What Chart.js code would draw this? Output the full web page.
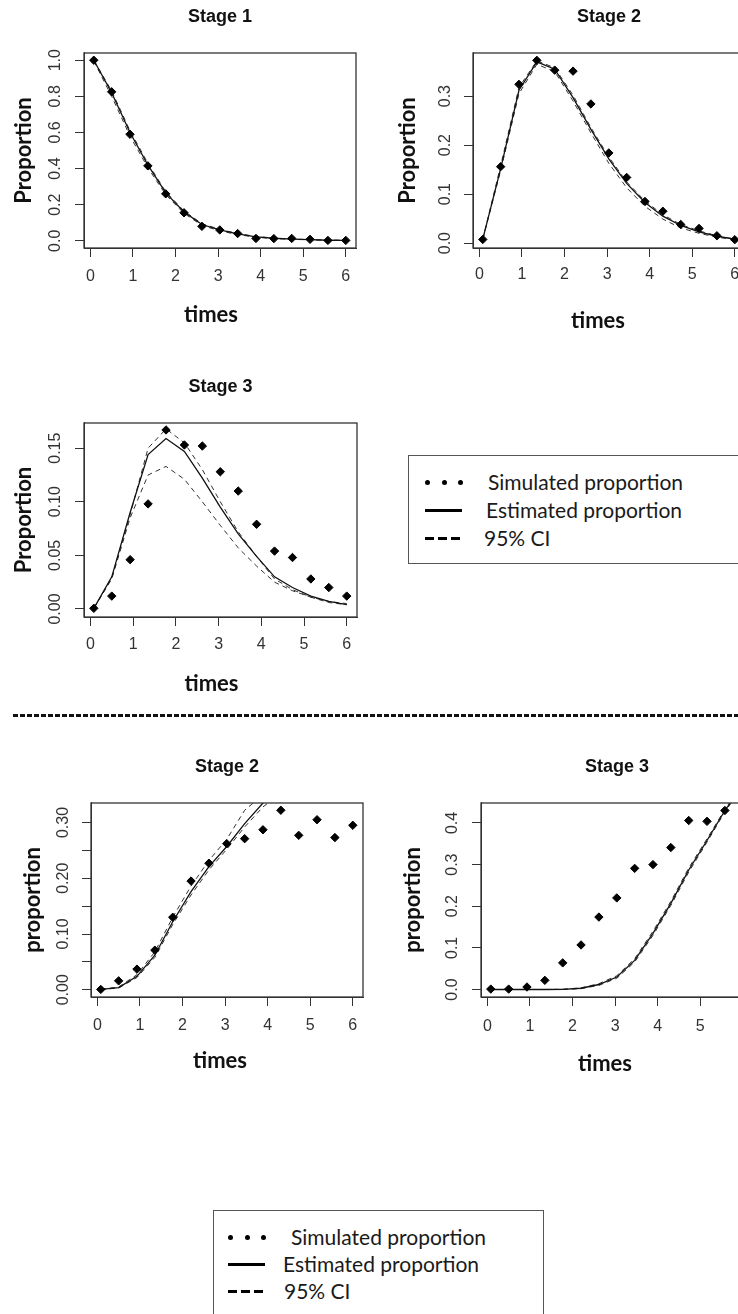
<!DOCTYPE html>
<html>
<head>
<meta charset="utf-8">
<script src="https://cdn.jsdelivr.net/npm/chart.js@4.4.1/dist/chart.umd.min.js"></script>
<style>
html, body { margin: 0; padding: 0; background: #fff; width: 738px; height: 1314px; overflow: hidden; }
body { position: relative; }
canvas { position: absolute; }
.sep { position: absolute; left: 13px; top: 714px; width: 725px; height: 3px;
  background: repeating-linear-gradient(to right, #111 0 5px, transparent 5px 7px); }
.legend { position: absolute; box-sizing: border-box; border: 1px solid #555; background: #fff;
  font-family: Lato, "Open Sans", sans-serif; font-size: 21px; color: #1a1a1a; }
.legend .txt { position: absolute; line-height: 24px; white-space: nowrap; }
.legend .dot { position: absolute; width: 5px; height: 5px; border-radius: 50%; background: #000; }
.legend .bar { position: absolute; height: 3px; background: #000; }
</style>
</head>
<body>
<canvas id="c1" width="370" height="340" style="left:0px;top:0px"></canvas>
<canvas id="c2" width="400" height="340" style="left:370px;top:0px"></canvas>
<canvas id="c3" width="370" height="340" style="left:0px;top:370px"></canvas>
<canvas id="c4" width="370" height="340" style="left:0px;top:740px"></canvas>
<canvas id="c5" width="400" height="340" style="left:370px;top:740px"></canvas>

<div class="sep"></div>

<div class="legend" id="leg1" style="left:408px;top:455px;width:335px;height:109px"></div>
<div class="legend" id="leg2" style="left:213px;top:1210px;width:331px;height:120px"></div>

<script>
// observation times (same for every panel)
const times = [0.08, 0.5, 0.93, 1.35, 1.77, 2.2, 2.62, 3.04, 3.46, 3.89, 4.31, 4.73, 5.16, 5.58, 6.0];
const xTicks = [0, 1, 2, 3, 4, 5, 6];

// upper block - Stage 1
const s1Sim = [1.0, 0.825, 0.59, 0.415, 0.26, 0.155, 0.08, 0.06, 0.04, 0.013, 0.012, 0.013, 0.008, 0.002, 0.002];
const s1Est = [1.0, 0.82, 0.6, 0.42, 0.265, 0.16, 0.09, 0.06, 0.038, 0.022, 0.014, 0.009, 0.006, 0.003, 0.002];
const s1Lo = [0.995, 0.8, 0.58, 0.405, 0.255, 0.152, 0.085, 0.055, 0.034, 0.02, 0.012, 0.008, 0.005, 0.003, 0.002];
const s1Hi = [1.0, 0.83, 0.61, 0.43, 0.272, 0.165, 0.095, 0.063, 0.04, 0.024, 0.015, 0.01, 0.006, 0.004, 0.002];
const s1YTicks = [0, 0.2, 0.4, 0.6, 0.8, 1.0];
const s1YLabels = ['0.0', '0.2', '0.4', '0.6', '0.8', '1.0'];

// upper block - Stage 2
const s2Sim = [0.0075, 0.156, 0.324, 0.373, 0.353, 0.351, 0.284, 0.184, 0.134, 0.085, 0.065, 0.038, 0.03, 0.015, 0.007];
const s2Est = [0.008, 0.152, 0.312, 0.37, 0.355, 0.297, 0.232, 0.172, 0.122, 0.083, 0.055, 0.036, 0.023, 0.014, 0.008];
const s2Lo = [0.008, 0.148, 0.305, 0.365, 0.35, 0.29, 0.225, 0.163, 0.113, 0.075, 0.049, 0.031, 0.02, 0.012, 0.007];
const s2Hi = [0.008, 0.158, 0.318, 0.372, 0.358, 0.302, 0.236, 0.176, 0.125, 0.086, 0.058, 0.038, 0.025, 0.015, 0.008];
const s2YTicks = [0, 0.1, 0.2, 0.3];
const s2YLabels = ['0.0', '0.1', '0.2', '0.3'];

// upper block - Stage 3
const s3Sim = [0.0006, 0.012, 0.046, 0.098, 0.167, 0.153, 0.152, 0.128, 0.11, 0.079, 0.054, 0.048, 0.028, 0.02, 0.012];
const s3Est = [0.0006, 0.03, 0.09, 0.144, 0.159, 0.147, 0.122, 0.095, 0.07, 0.049, 0.03, 0.02, 0.012, 0.007, 0.004];
const s3Lo = [0.0006, 0.028, 0.085, 0.125, 0.133, 0.121, 0.1, 0.078, 0.057, 0.04, 0.025, 0.017, 0.011, 0.007, 0.005];
const s3Hi = [0.0006, 0.029, 0.088, 0.15, 0.168, 0.155, 0.13, 0.1, 0.072, 0.049, 0.028, 0.018, 0.011, 0.006, 0.004];
const s3YTicks = [0, 0.05, 0.1, 0.15];
const s3YLabels = ['0.00', '0.05', '0.10', '0.15'];

// lower block - Stage 2
const b2Sim = [0.0006, 0.016, 0.037, 0.071, 0.13, 0.195, 0.227, 0.262, 0.271, 0.287, 0.322, 0.277, 0.305, 0.273, 0.295];
const b2Est = [0.0006, 0.004, 0.024, 0.062, 0.122, 0.176, 0.221, 0.257, 0.298, 0.335, 0.36, 0.38, 0.39, 0.395, 0.4];
const b2Lo = [0.0006, 0.003, 0.022, 0.058, 0.117, 0.17, 0.215, 0.252, 0.292, 0.328, 0.352, 0.37, 0.38, 0.385, 0.39];
const b2Hi = [0.0006, 0.005, 0.027, 0.068, 0.13, 0.186, 0.232, 0.27, 0.322, 0.35, 0.38, 0.4, 0.41, 0.415, 0.42];
const b2YTicks = [0, 0.05, 0.1, 0.15, 0.2, 0.25, 0.3];
const b2YLabels = ['0.00', '', '0.10', '', '0.20', '', '0.30'];

// lower block - Stage 3
const b3Sim = [0.001, 0.001, 0.006, 0.022, 0.064, 0.107, 0.174, 0.22, 0.291, 0.3, 0.341, 0.406, 0.404, 0.43, 0.42];
const b3Est = [0, 0, 0, 0, 0.0003, 0.003, 0.012, 0.03, 0.07, 0.135, 0.207, 0.287, 0.358, 0.43, 0.49];
const b3Lo = [0, 0, 0, 0, 0.0002, 0.002, 0.01, 0.027, 0.066, 0.13, 0.202, 0.282, 0.354, 0.427, 0.487];
const b3Hi = [0, 0, 0, 0, 0.0005, 0.004, 0.014, 0.033, 0.074, 0.14, 0.212, 0.292, 0.362, 0.433, 0.492];
const b3YTicks = [0, 0.1, 0.2, 0.3, 0.4];
const b3YLabels = ['0.0', '0.1', '0.2', '0.3', '0.4'];

const legendLabels = ['Simulated proportion', 'Estimated proportion', '95% CI'];

const INK = '#333';
const TICK_FONT = '"Liberation Sans", Arial, sans-serif';

// R-like base graphics: full box, rotated y labels, x axis title
const rStyle = {
  id: 'rStyle',
  afterDraw(chart, args, o) {
    const { ctx, chartArea: a, scales: { y } } = chart;
    ctx.save();
    ctx.strokeStyle = INK;
    ctx.lineWidth = 1.3;
    ctx.strokeRect(a.left, a.top, a.right - a.left, a.bottom - a.top);

    ctx.fillStyle = INK;
    ctx.font = '16px ' + TICK_FONT;
    ctx.textAlign = 'center';
    ctx.textBaseline = 'middle';
    y.ticks.forEach((t, i) => {
      ctx.save();
      ctx.translate(a.left - o.yLabGap, y.getPixelForValue(t.value));
      ctx.rotate(-Math.PI / 2);
      ctx.fillText(o.yLabels[i], 0, 0);
      ctx.restore();
    });

    ctx.fillStyle = '#111';
    ctx.font = 'bold 22px Lato, "Open Sans", sans-serif';
    ctx.textBaseline = 'alphabetic';
    ctx.fillText('times', (a.left + a.right) / 2 + o.xTitleDx, o.xTitleBase);
    ctx.restore();
  }
};

function pts(vals) {
  return times.map((t, i) => ({ x: t, y: vals[i] }));
}

function makeChart(id, title, yTitle, sim, est, lo, hi, yTicks, yLabels, yMin, yMax, g) {
  const canvas = document.getElementById(id);
  const tickGrid = { drawOnChartArea: false, drawTicks: true, tickLength: 9, color: INK, lineWidth: 1 };
  const line = (data, dash, color, width) => ({
    data: pts(data), showLine: true, pointRadius: 0, borderColor: color,
    borderWidth: width, borderDash: dash, tension: 0, clip: 0
  });
  new Chart(canvas, {
    type: 'scatter',
    data: {
      datasets: [
        { data: pts(sim), pointStyle: 'rectRot', pointRadius: 4.2, backgroundColor: '#000',
          borderColor: '#000', borderWidth: 1, clip: 0 },
        line(est, [], '#111', 1.3),
        line(lo, [5, 4], '#333', 1),
        line(hi, [5, 4], '#333', 1)
      ]
    },
    options: {
      responsive: false,
      animation: false,
      layout: { padding: { left: 0, top: 0, right: g.w - g.boxR, bottom: 0 } },
      plugins: {
        legend: { display: false },
        tooltip: { enabled: false },
        title: {
          display: true, text: title, fullSize: false, color: '#111',
          font: { family: TICK_FONT, size: 18, weight: 'bold' },
          padding: { top: g.titleMid - 10.8, bottom: g.boxT - (g.titleMid - 10.8) - 21.6 }
        },
        rStyle: { yLabels, yLabGap: g.yLabGap, xTitleBase: g.xTitleBase, xTitleDx: g.xTitleDx }
      },
      scales: {
        x: {
          type: 'linear', min: -0.15, max: 6.24,
          afterBuildTicks: ax => { ax.ticks = xTicks.map(v => ({ value: v })); },
          afterFit: s => { s.height = g.h - g.boxB; s.paddingLeft = 0; s.paddingRight = 0; },
          grid: tickGrid,
          border: { color: INK, width: 1 },
          ticks: { padding: g.tickPad, color: INK, autoSkip: false, maxRotation: 0,
            font: { family: TICK_FONT, size: 16 } }
        },
        y: {
          type: 'linear', min: yMin, max: yMax,
          afterBuildTicks: ax => { ax.ticks = yTicks.map(v => ({ value: v })); },
          afterFit: s => { s.width = g.boxL; s.paddingTop = 0; s.paddingBottom = 0; },
          grid: tickGrid,
          border: { color: INK, width: 1 },
          ticks: { display: false },
          title: { display: true, text: yTitle, color: '#111',
            font: { family: 'Lato, "Open Sans", sans-serif', size: 22, weight: 'bold' },
            padding: { top: g.yTitleMid - 13.2, bottom: 0 } }
        }
      }
    },
    plugins: [rStyle]
  });
}

makeChart('c1', 'Stage 1', 'Proportion', s1Sim, s1Est, s1Lo, s1Hi, s1YTicks, s1YLabels, -0.04, 1.04,
  { w: 370, h: 340, boxL: 84, boxT: 53, boxR: 356, boxB: 248, titleMid: 17, yTitleMid: 24, yLabGap: 28, tickPad: 10, xTitleBase: 322, xTitleDx: -9 });
makeChart('c2', 'Stage 2', 'Proportion', s2Sim, s2Est, s2Lo, s2Hi, s2YTicks, s2YLabels, -0.01, 0.388,
  { w: 400, h: 340, boxL: 103, boxT: 53, boxR: 375, boxB: 248, titleMid: 17, yTitleMid: 38, yLabGap: 27, tickPad: 8, xTitleBase: 328, xTitleDx: -11 });
makeChart('c3', 'Stage 3', 'Proportion', s3Sim, s3Est, s3Lo, s3Hi, s3YTicks, s3YLabels, -0.0075, 0.1735,
  { w: 370, h: 340, boxL: 84, boxT: 53, boxR: 357, boxB: 247, titleMid: 17, yTitleMid: 24, yLabGap: 28, tickPad: 9, xTitleBase: 321, xTitleDx: -9 });
makeChart('c4', 'Stage 2', 'proportion', b2Sim, b2Est, b2Lo, b2Hi, b2YTicks, b2YLabels, -0.013, 0.335,
  { w: 370, h: 340, boxL: 91, boxT: 63, boxR: 363, boxB: 257, titleMid: 27, yTitleMid: 33, yLabGap: 27.5, tickPad: 10, xTitleBase: 328, xTitleDx: -7 });
makeChart('c5', 'Stage 3', 'proportion', b3Sim, b3Est, b3Lo, b3Hi, b3YTicks, b3YLabels, -0.018, 0.448,
  { w: 400, h: 340, boxL: 111, boxT: 63, boxR: 383, boxB: 257, titleMid: 27, yTitleMid: 43, yLabGap: 28.5, tickPad: 11, xTitleBase: 331, xTitleDx: -12 });

// boxed legends built from the same labels
function buildLegend(id, rows, symL, textL) {
  const box = document.getElementById(id);
  let html = '';
  rows.forEach((cy, i) => {
    if (i === 0) {
      [0, 17, 33].forEach(dx => {
        html += `<span class="dot" style="left:${symL + dx}px;top:${cy - 3}px"></span>`;
      });
    } else if (i === 1) {
      html += `<span class="bar" style="left:${symL}px;top:${cy - 2}px;width:37px"></span>`;
    } else {
      [0, 13, 26].forEach(dx => {
        html += `<span class="bar" style="left:${symL + dx}px;top:${cy - 2}px;width:9px"></span>`;
      });
    }
    html += `<span class="txt" style="left:${textL[i]}px;top:${cy - 13}px">${legendLabels[i]}</span>`;
  });
  box.innerHTML = html;
}
buildLegend('leg1', [27, 55, 83], 16, [79, 77, 75]);
buildLegend('leg2', [27, 54, 81], 14, [77, 69, 70]);
</script>
</body>
</html>
